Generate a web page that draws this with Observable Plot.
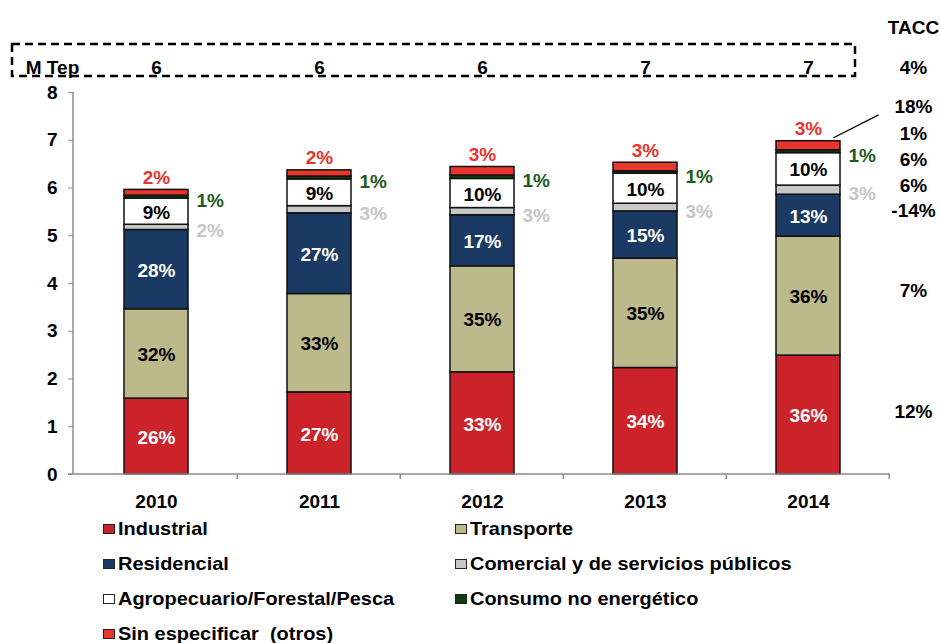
<!DOCTYPE html>
<html><head><meta charset="utf-8">
<script src="https://cdn.jsdelivr.net/npm/d3@7"></script>
<script src="https://cdn.jsdelivr.net/npm/@observablehq/plot@0.6"></script>
<style>
body{margin:0;background:#fff;font-family:"Liberation Sans",Arial,sans-serif;}
#wrap{position:relative;width:940px;height:643px;overflow:hidden;}
#chart{position:absolute;left:0;top:0;}
#legend{position:absolute;left:103px;top:511px;z-index:2;display:grid;grid-template-columns:352px auto;font-weight:bold;font-size:19px;color:#000;}
.item{height:35px;display:flex;align-items:center;white-space:pre;}
.sw{width:10px;height:8px;border:1.5px solid #222;margin-right:3px;flex:none;}
.tx{display:inline-block;transform:scaleX(1.05);transform-origin:left center;}
</style></head><body><div id="wrap"><div id="chart"></div><div id="legend"></div></div>
<script>
const years = ["2010","2011","2012","2013","2014"];
const categories = ["Industrial","Transporte","Residencial","Comercial y de servicios públicos","Agropecuario/Forestal/Pesca","Consumo no energético","Sin especificar  (otros)"];
const colors = ["#cc2229","#bcb98a","#1b3a63","#c8c8c8","#ffffff","#0d3b0d","#e8352e"];
const legendOrder = [0,1,2,3,4,5,6];

// Mtep per sector
const industrial  = [1.59,1.72,2.14,2.23,2.49];
const transporte  = [1.87,2.06,2.22,2.29,2.49];
const residencial = [1.66,1.69,1.07,0.99,0.88];
const comercial   = [0.11,0.15,0.15,0.16,0.19];
const agro        = [0.55,0.56,0.61,0.63,0.68];
const consumo     = [0.06,0.06,0.07,0.05,0.06];
const sinEsp      = [0.12,0.13,0.18,0.18,0.19];

// share labels
const pctIndustrial  = ["26%","27%","33%","34%","36%"];
const pctTransporte  = ["32%","33%","35%","35%","36%"];
const pctResidencial = ["28%","27%","17%","15%","13%"];
const pctComercial   = ["2%","3%","3%","3%","3%"];
const pctAgro        = ["9%","9%","10%","10%","10%"];
const pctConsumo     = ["1%","1%","1%","1%","1%"];
const pctSin         = ["2%","2%","3%","3%","3%"];

const mtep = ["6","6","6","7","7"];
const taccTotal = "4%";
const taccByCat = ["12%","7%","-14%","6%","6%","1%","18%"];
const taccAnchorY = [1.32,3.85,5.51,6.05,6.58,7.14,7.69];
const yTicks = [0,1,2,3,4,5,6,7,8];

const series = [industrial,transporte,residencial,comercial,agro,consumo,sinEsp];
const pcts = [pctIndustrial,pctTransporte,pctResidencial,pctComercial,pctAgro,pctConsumo,pctSin];

const rows = [];
years.forEach((yr,i)=>{
  let acc = 0;
  series.forEach((s,k)=>{
    rows.push({year:yr, cat:categories[k], k, y1:acc, y2:acc+s[i], mid:acc+s[i]/2, label:pcts[k][i]});
    acc += s[i];
  });
});
const totals = years.map((yr,i)=>({year:yr, total:d3.sum(series, s=>s[i]), label:pctSin[i]}));
const taccRows = categories.map((c,k)=>({y:taccAnchorY[k], text:taccByCat[k]}));

const PAD = 0.61;
const FS = 19;
function decor(index, scales, values, dims){
  const g = d3.create("svg:g");
  const x = scales.x, y = scales.y;
  const L = dims.marginLeft, R = dims.width - dims.marginRight;
  const T = dims.marginTop, B = dims.height - dims.marginBottom;
  const step = x(years[1]) - x(years[0]);
  const bw = step*(1-PAD);
  const grey = "#8c8c8c";
  g.append("line").attr("x1",L).attr("x2",L).attr("y1",T).attr("y2",B).attr("stroke",grey).attr("stroke-width",1.5);
  g.append("line").attr("x1",L-5).attr("x2",R).attr("y1",B).attr("y2",B).attr("stroke",grey).attr("stroke-width",1.5);
  years.forEach((yr,i)=>{
    const xb = x(yr) + bw/2 + step/2;
    g.append("line").attr("x1",xb).attr("x2",xb).attr("y1",B).attr("y2",B+5).attr("stroke",grey).attr("stroke-width",1.5);
  });
  // dashed header box
  g.append("rect").attr("x",L-61).attr("y",T-48).attr("width",(R-35)-(L-61)).attr("height",32)
    .attr("fill","none").attr("stroke","#000").attr("stroke-width",2.5).attr("stroke-dasharray","8,5");
  // leader line for 18%
  const last = years[years.length-1];
  const tot = totals[totals.length-1].total;
  g.append("line").attr("x1",x(last)+bw-6).attr("y1",y(tot)-3)
    .attr("x2",x(last)+bw+39).attr("y2",y(taccAnchorY[6])+8).attr("stroke","#000").attr("stroke-width",1.3);
  return g.node();
}

const inside = rows.filter(d=>[0,1,2,4].includes(d.k));
const plot = Plot.plot({
  width:940, height:522,
  marginTop:92, marginBottom:48, marginLeft:73, marginRight:50,
  style:{fontFamily:"'Liberation Sans', Arial, sans-serif", fontSize:FS+"px", fontWeight:"bold", background:"transparent", color:"#000", overflow:"visible"},
  x:{domain:years, paddingInner:PAD, paddingOuter:PAD/2, label:null},
  y:{domain:[0,8], label:null},
  color:{domain:categories, range:colors},
  marks:[
    Plot.axisY({ticks:yTicks, tickSize:5, tickPadding:11, stroke:"#8c8c8c", fontSize:FS, fontWeight:"bold", fill:"#000", label:null, tickFormat:d3.format("d")}),
    Plot.axisX({tickSize:0, tickPadding:20, fontSize:FS, fontWeight:"bold", fill:"#000", label:null}),
    Plot.barY(rows, {x:"year", y1:"y1", y2:"y2", fill:"cat", stroke:"#111", strokeWidth:1.5}),
    Plot.text(inside, {x:"year", y:"mid", text:"label", fill:d=>(d.k===0||d.k===2)?"#fff":"#000", fontSize:FS, fontWeight:"bold", dy:1}),
    Plot.text(rows.filter(d=>d.k===5), {x:"year", y:"mid", text:"label", fill:"#1e5a1e", fontSize:FS, fontWeight:"bold", textAnchor:"start", dx:40, dy:4}),
    Plot.text(rows.filter(d=>d.k===3), {x:"year", y:"mid", text:"label", fill:"#c6c6c6", fontSize:FS, fontWeight:"bold", textAnchor:"start", dx:40, dy:4}),
    Plot.text(totals, {x:"year", y:"total", text:"label", fill:"#e8352e", fontSize:FS, fontWeight:"bold", dy:-12}),
    Plot.text(years, {x:d=>d, text:(d,i)=>mtep[i], frameAnchor:"top", dy:-32, fontSize:FS, fontWeight:"bold", fill:"#000"}),
    Plot.text(["M Tep"], {frameAnchor:"top-left", text:d=>d, dx:-21, dy:-32, textAnchor:"middle", fontSize:FS, fontWeight:"bold", fill:"#000"}),
    Plot.text(["TACC"], {frameAnchor:"top-right", text:d=>d, dx:23, dy:-72, textAnchor:"middle", fontSize:FS, fontWeight:"bold", fill:"#000"}),
    Plot.text([taccTotal], {frameAnchor:"top-right", text:d=>d, dx:23, dy:-32, textAnchor:"middle", fontSize:FS, fontWeight:"bold", fill:"#000"}),
    Plot.text(taccRows, {y:"y", text:"text", frameAnchor:"right", dx:23, textAnchor:"middle", fontSize:FS, fontWeight:"bold", fill:"#000"}),
    decor
  ]
});
document.getElementById("chart").appendChild(plot);

const leg = document.getElementById("legend");
legendOrder.forEach(k=>{
  const it = document.createElement("div"); it.className="item";
  const sw = document.createElement("span"); sw.className="sw"; sw.style.background=colors[k];
  const tx = document.createElement("span"); tx.className="tx"; tx.textContent=categories[k];
  it.appendChild(sw); it.appendChild(tx); leg.appendChild(it);
});
</script></body></html>
